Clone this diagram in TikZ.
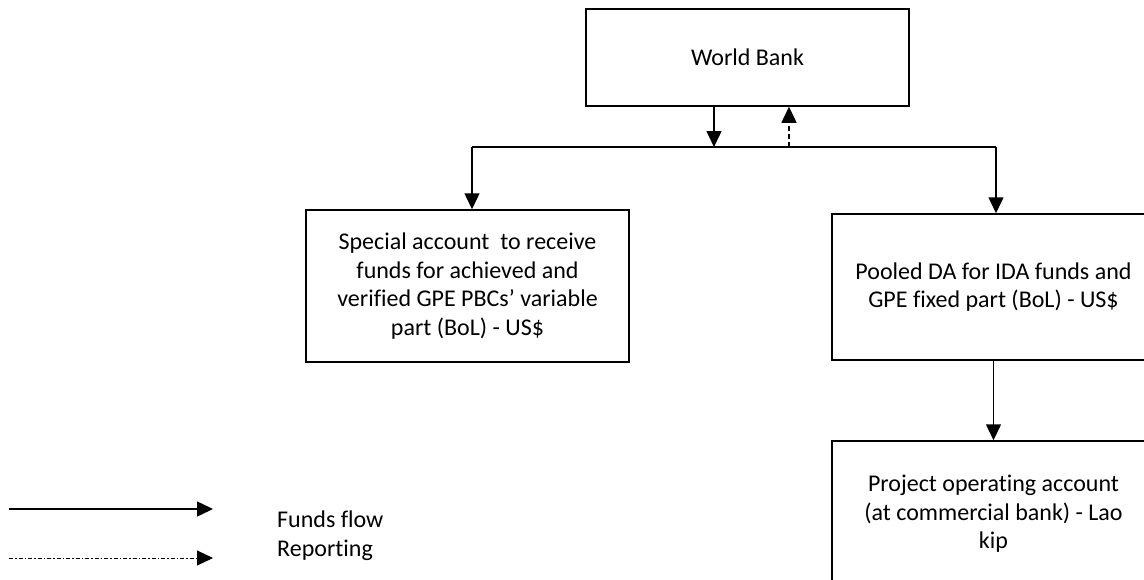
\documentclass[tikz,border=0pt]{standalone}
\usepackage{fontspec}
\setmainfont{Carlito}[Ligatures={NoCommon}]
\usetikzlibrary{arrows.meta}

\newcommand*{\xmax}{1144}
\newcommand*{\ymax}{579}

\tikzset{
	acct/.style={draw,line width=1.5pt,minimum width=323pt,align=center,inner sep=0pt},
	fund/.style={line width=1.5pt,-{Triangle[width=15pt,length=16pt]}},
	report/.style={fund,dash pattern=on 5pt off 3pt},
}

\begin{document}
\begin{tikzpicture}[x=1pt,y=-1pt,font=\fontsize{24}{28.5}\selectfont]

	\useasboundingbox (0,0) rectangle (\xmax,\ymax);
	\clip (0,0) rectangle (\xmax,\ymax);

	% accounts
	\node[acct,minimum height=97pt] (wb) at (747.5,57.5) {World Bank};
	\node[acct,minimum height=152pt] (special) at (467.5,286) {Special account~ to receive\\funds for achieved and\\verified GPE PBCs’ variable\\part (BoL) - US\$};
	\node[acct,minimum height=146pt] (pooled) at (993.5,287) {Pooled DA for IDA funds and\\GPE fixed part (BoL) - US\$};
	\node[acct,minimum height=146pt] (operating) at (993.5,514) {Project operating account\\(at commercial bank) - Lao\\kip};

	% flows
	\coordinate (down) at (714,147);
	\coordinate (up) at (789,147);
	\coordinate (busL) at (472,147);
	\coordinate (busR) at (996,147);
	\draw[fund] (wb.south -| down) -- (down);
	\draw[report] (up) -- (wb.south -| up);
	\draw[line width=1.5pt] (busL) -- (busR);
	\draw[fund] (busL) -- (special.north -| busL);
	\draw[fund] (busR) -- (pooled.north -| busR);
	\draw[fund] (pooled) -- (operating);

	% legend
	\coordinate (fundsA) at (9,509);
	\coordinate (fundsB) at (213,509);
	\coordinate (reportA) at (9,558);
	\coordinate (reportB) at (213,558);
	\draw[fund] (fundsA) -- (fundsB);
	\draw[fund,line width=1pt,dash pattern=on 4pt off 2pt on 1.5pt off 2pt] (reportA) -- (reportB);
	\node[anchor=base west,align=left,inner sep=0pt] (keytext) at (277,556) {Funds flow\\Reporting};

\end{tikzpicture}
\end{document}
